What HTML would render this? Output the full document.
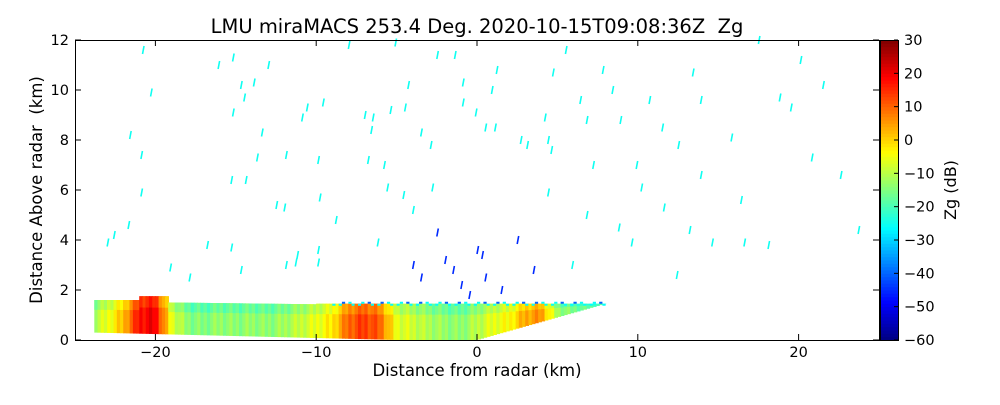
<!DOCTYPE html>
<html><head><meta charset="utf-8"><style>
body{margin:0;background:#fff;width:1000px;height:400px;overflow:hidden;font-family:"Liberation Sans","DejaVu Sans",sans-serif}
svg text{font-family:"DejaVu Sans","Liberation Sans",sans-serif}
</style></head><body>
<svg id="chart" width="1000" height="400" xmlns="http://www.w3.org/2000/svg">
<text x="477" y="33" font-size="19.5" text-anchor="middle" xml:space="preserve">LMU miraMACS 253.4 Deg. 2020-10-15T09:08:36Z  Zg</text>
<g id="plot"></g>
<rect x="75.5" y="40.5" width="804" height="300" fill="none" stroke="#000" stroke-width="1"/>
<g id="axes"></g>
<text x="477" y="376" font-size="16.5" text-anchor="middle">Distance from radar (km)</text>
<text transform="translate(42,190) rotate(-90)" font-size="16.5" text-anchor="middle" xml:space="preserve">Distance Above radar  (km)</text>
<g id="cbar"></g>
<text transform="translate(956,190) rotate(-90)" font-size="16" text-anchor="middle">Zg (dB)</text>
</svg>
<script>
const xTicks=[-20,-10,0,10,20];
const yTicks=[0,2,4,6,8,10,12];
const cbTicks=[30,20,10,0,-10,-20,-30,-40,-50,-60];
// band reflectivity by distance (km), -24..8 step 1
const bandDist=[-24,-23,-22,-21,-20,-19,-18,-17,-16,-15,-14,-13,-12,-11,-10,-9,-8,-7,-6,-5,-4,-3,-2,-1,0,1,2,3,4,5,6,7,8];
const bandZ=[-12,-6,2,18,20,-6,-14,-15,-13,-14,-13,-14,-12,-9,-6,-2,10,14,10,-6,-8,-11,-13,-14,-10,-6,-4,4,6,-12,-16,-18,-20];
const ptX=[-20.8,-20.3,-21.6,-20.9,-20.9,-23,-22.6,-21.7,-19.1,-17.9,-16.8,-16.1,-15.2,-14.7,-14.5,-15.2,-15.3,-14.4,-15.3,-14.7,-13.4,-13,-13.7,-13.9,-11.9,-12.5,-12,-11.9,-11.2,-11.3,-10.9,-10.6,-9.6,-9.9,-9.9,-9.9,-8.8,-9.8,-8,-7,-6.5,-6.6,-6.8,-5.8,-5.6,-6.2,-5.4,-4.5,-4.3,-5.1,-4.6,-4,-3.5,-2.9,-2.8,-2.5,-1.4,-0.9,-0.9,-0.1,0.5,1.1,1.2,0.9,2.7,3.1,4.2,4.4,4.6,4.7,4.4,5.5,6.4,6.8,7.2,6.8,7.8,8.4,8.9,9.9,10.2,8.8,9.6,10.7,11.5,11.6,12.5,13.2,13.4,13.9,13.9,14.6,15.8,16.4,16.6,17.5,18.1,18.8,19.5,20.1,20.8,21.5,22.6,23.7,12.4,5.9,-2,0,-1,0.5,1.5,-4,-3.5,-0.5,3.5,2.5,-2.5,-1.5,0.3];
const ptY=[11.6,9.9,8.2,7.4,5.9,3.9,4.2,4.6,2.9,2.5,3.8,11,11.3,10.2,9.7,9.1,6.4,6.4,3.7,2.8,8.3,11,7.3,10.3,7.4,5.4,5.3,3,3.4,3.1,8.9,9.3,9.5,7.2,3.6,3.1,4.8,5.7,11.8,9,8.9,8.4,7.2,7,6.1,3.9,9.2,9.3,10.2,11.9,5.8,5.2,8.3,7.8,6.1,11.4,11.4,10.3,9.5,9.1,8.5,8.5,10.8,10,8,7.8,8.9,8,7.6,10.7,5.9,11.6,9.6,8.8,7,5,10.8,10,8.8,7,6.1,4.5,3.9,9.6,8.5,5.3,7.8,4.4,10.7,9.6,6.6,3.9,8.1,5.6,3.9,12,3.8,9.7,9.3,11.2,7.3,10.2,6.6,4.4,2.6,3,3.2,3.6,2.2,2.5,2,3,2.5,1.8,2.8,4,4.3,2.8,3.4];
const ptZ=ptX.map((x,i)=>i>=106?-45:-25);

const X=v=>477+v*16.08, Y=v=>340-v*25;
const NS="http://www.w3.org/2000/svg";
function mk(tag,attrs,parent){const e=document.createElementNS(NS,tag);for(const k in attrs)e.setAttribute(k,attrs[k]);parent.appendChild(e);return e;}
function jet(v){let t=(v+60)/90;t=Math.max(0,Math.min(1,t));
 const f=x=>Math.max(0,Math.min(1,1.5-Math.abs(4*t-x)));
 return `rgb(${Math.round(255*f(3))},${Math.round(255*f(2))},${Math.round(255*f(1))})`;}
const plot=document.getElementById('plot');
function topH(d){if(d<-21)return 1.6;if(d<-19.3)return 1.75;if(d<-10)return 1.5-(d+19)*0.008;return 1.45;}
function botH(d){if(d<-5)return 0.3-(d+24)*0.3/19;if(d<0)return 0;return d*1.45/8;}
function zAt(d){const n=bandDist.length;if(d<=bandDist[0])return bandZ[0];if(d>=bandDist[n-1])return bandZ[n-1];
 const i=Math.floor(d-bandDist[0]);const f=d-bandDist[i];return bandZ[i]*(1-f)+bandZ[i+1]*f;}
let k=0;
for(let a=-23.8;a<8.2;a+=0.2,k++){
  const b=a+0.2,m=(a+b)/2,t=topH(m),bo=botH(m); if(t<=bo)continue;
  const z=zAt(m);
  const jitter=((k*7)%5-2)*1.2;
  const r=mk('rect',{x:X(a),y:Y(t),width:X(b)-X(a)+0.6,height:Y(bo)-Y(t),fill:jet(z+jitter)},plot);
  
  
  const r2=mk('rect',{x:X(a),y:Y(t),width:X(b)-X(a)+0.6,height:(Y(bo)-Y(t))*0.3,fill:jet(z-4+jitter)},plot);
  
  
  if(m>-9 && k%3!==0){
   const r3=mk('rect',{x:X(a),y:Y(t)-(k%2?2:0),width:X(b)-X(a),height:2,fill:jet(k%4===1?-40:-26)},plot);
   
   
  }
}
ptX.forEach((x,i)=>{
 const l=mk('line',{x1:X(x),y1:Y(ptY[i])+4,x2:X(x)+1.5,y2:Y(ptY[i])-4,stroke:jet(ptZ[i]),'stroke-width':1.6},plot);
 
 
});
const axes=document.getElementById('axes');
xTicks.forEach(v=>{
 mk('line',{x1:X(v),y1:340,x2:X(v),y2:334,stroke:'#000'},axes);
 mk('line',{x1:X(v),y1:40,x2:X(v),y2:46,stroke:'#000'},axes);
 const t=mk('text',{x:X(v),y:357,'font-size':14.5,'text-anchor':'middle'},axes);
 t.textContent=v<0?'\u2212'+(-v):v;
 
 
});
yTicks.forEach(v=>{
 mk('line',{x1:75,y1:Y(v),x2:81,y2:Y(v),stroke:'#000'},axes);
 mk('line',{x1:879,y1:Y(v),x2:873,y2:Y(v),stroke:'#000'},axes);
 const t=mk('text',{x:69,y:Y(v)+5,'font-size':14.5,'text-anchor':'end'},axes);
 t.textContent=v;
 
 
});
const cb=document.getElementById('cbar');
for(let j=0;j<90;j++){mk('rect',{x:880,y:340-(j+1)*300/90,width:18,height:300/90+0.5,fill:jet(-60+j+0.5)},cb);}
mk('rect',{x:880.5,y:40.5,width:18,height:300,fill:'none',stroke:'#000'},cb);
cbTicks.forEach(v=>{
 const y=340-(v+60)*300/90;
 mk('line',{x1:894,y1:y,x2:898,y2:y,stroke:'#000'},cb);
 const t=mk('text',{x:904,y:y+5,'font-size':14.5},cb);
 t.textContent=v<0?'\u2212'+(-v):v;
 
 
});
</script>
</body></html>
